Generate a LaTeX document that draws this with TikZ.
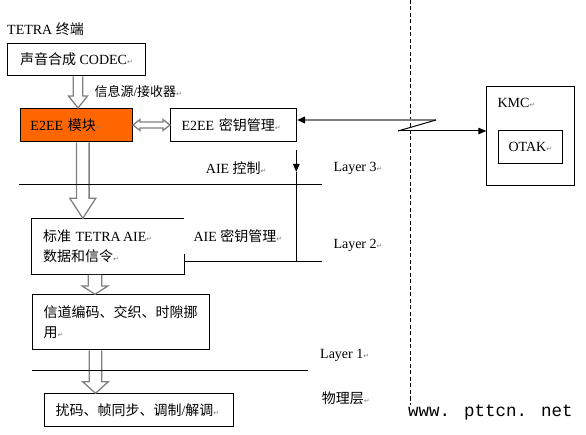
\documentclass[tikz,border=0pt]{standalone}
\usepackage{fontspec}
\setmainfont{Liberation Serif}
\newfontfamily\zh{Noto Sans CJK SC}
\newfontfamily\symf{DejaVu Sans}
\newfontfamily\webf{Liberation Mono}
\usepackage{xcolor}
\usepackage{tikz}
\usetikzlibrary{arrows.meta,calc}

\definecolor{moduleorange}{HTML}{FF6600}
\definecolor{arrowgray}{HTML}{808080}
\newcommand{\rt}{{\symf\fontsize{7}{7}\selectfont\textcolor{gray}{↵}}}

% hollow arrow pointing down: from, to, shaft half width, head half width, head length
\newcommand{\fatdown}[5]{%
  \draw[fat] let \p1=(#1), \p2=(#2) in
    (\x1-#3pt,\y1-0.5pt) -- (\x1-#3pt,\y2+#5pt) -- (\x1-#4pt,\y2+#5pt) -- (\x1,\y2)
    -- (\x1+#4pt,\y2+#5pt) -- (\x1+#3pt,\y2+#5pt) -- (\x1+#3pt,\y1-0.5pt);}

\tikzset{
  box/.style={anchor=north west, inner sep=0pt, line width=1pt,
    font=\fontsize{14}{20.5}\selectfont},
  lbl/.style={anchor=west, inner sep=0pt, font=\fontsize{14}{17}\selectfont},
  fat/.style={draw=arrowgray, fill=white, line width=1.3pt},
  tip/.style={-{Triangle[length=8pt,width=6.5pt,color=black]}}
}

\begin{document}
\begin{tikzpicture}[x=1pt, y=-1pt]
\useasboundingbox (0,0) rectangle (586,435);

% Terminal title
\node[anchor=base west, inner sep=0pt, font=\fontsize{14}{17}\selectfont] (title) at (7,35) {TETRA {\zh 终端}};

% Terminal stack
\node[box, draw, minimum width=138pt, minimum height=32pt] (codec) at (7,43) {{\zh 声音合成} CODEC\rt};
\node[box, draw, fill=moduleorange, inner xsep=10pt, text width=92pt, align=left, minimum height=33pt] (e2ee) at (20,108) {E2EE {\zh 模块}\rt};
\node[box, draw, inner xsep=11pt, text width=104pt, align=left, minimum height=33pt] (keymgmt) at (170,108) {E2EE {\zh 密钥管理}\rt};
\node[box, inner xsep=11.5pt, text width=129pt, align=left, minimum height=55pt] (aie) at (31,218.3) {{\zh 标准} TETRA\,AIE\rt\\{\zh 数据和信令}\rt};
\draw[line width=1pt] ([yshift=20pt]aie.south east) -- (aie.south east) -- (aie.south west) -- (aie.north west) -- (aie.north east);
\node[box, draw, inner xsep=11.3pt, text width=155pt, align=left, minimum height=54.7pt] (channel) at (31.7,294.3) {{\zh 信道编码、交织、时隙挪}\\{\zh 用}\rt};
\node[box, draw, inner xsep=10.7pt, text width=167.6pt, align=left, minimum height=32.7pt] (scramble) at (44.3,393.3) {{\zh 扰码、帧同步、调制}/{\zh 解调}\rt};

% Key management centre
\node[box, draw, minimum width=88pt, minimum height=99.3pt] (kmc) at (486.3,86) {};
\node[anchor=base west, inner sep=0pt, font=\fontsize{14}{17}\selectfont] (kmclabel) at (497.3,108) {KMC\rt};
\node[box, draw, minimum width=63.7pt, minimum height=33pt] (otak) at (498,130.3) {OTAK\rt};

% Hollow arrows
\fatdown{[xshift=1.5pt]codec.south}{e2ee.north}{4.7}{9.5}{12}
\fatdown{[xshift=6.3pt]e2ee.south}{aie.north}{6.3}{13}{20}
\fatdown{[xshift=-12.5pt]aie.south}{channel.north}{6.8}{12.8}{8.3}
\fatdown{[xshift=-25.5pt]channel.south}{scramble.north}{6.2}{12.8}{11.6}
\draw[fat] let \p1=(e2ee.east), \p2=(keymgmt.west) in
  (\x1,\y1) -- (\x1+7pt,\y1+5.5pt) -- (\x1+7pt,\y1+3pt) -- (\x2-7pt,\y1+3pt) -- (\x2-7pt,\y1+5.5pt)
  -- (\x2,\y1) -- (\x2-7pt,\y1-5.5pt) -- (\x2-7pt,\y1-3pt) -- (\x1+7pt,\y1-3pt) -- (\x1+7pt,\y1-5.5pt) -- cycle;

% Labels
\node[lbl, font=\fontsize{13}{16}\selectfont] (srclbl) at (94.3,92) {{\zh 信息源}/{\zh 接收器}\rt};
\node[lbl] (aiectl) at (205.7,168) {AIE {\zh 控制}\rt};
\node[lbl] (aiekey) at (193.3,236) {AIE {\zh 密钥管理}\rt};
\node[lbl] (layer3) at (333.3,168) {Layer 3\rt};
\node[lbl] (layer2) at (333.3,245) {Layer 2\rt};
\node[lbl] (layer1) at (320,355) {Layer 1\rt};
\node[lbl] (phys) at (321.7,398) {{\zh 物理层}\rt};
\node[anchor=base west, inner sep=0pt, font=\webf\fontsize{17.5}{20}\selectfont] (web) at (408,416.5) {www. pttcn. net};

% Layer boundaries
\coordinate (l3a) at (19,185);
\coordinate (l3b) at (322,185);
\coordinate (l2end) at (322,262);
\coordinate (l1a) at (31.7,370.7);
\coordinate (l1b) at (308.3,370.7);
\draw[line width=1pt] (l3a) -- (l3b);
\draw[line width=1pt] (l2end -| aie.east) -- (l2end);
\draw[line width=1pt] (l1a) -- (l1b);

% AIE control line
\coordinate (ctltop) at (296.3,150);
\coordinate (ctlmid) at (296.3,172);
\draw[line width=1pt, tip] (ctltop) -- (ctlmid);
\draw[line width=1pt] (ctlmid) -- (ctlmid |- l2end);

% Air interface boundary
\coordinate (dtop) at (410,0);
\coordinate (dbot) at (410,405);
\draw[line width=1pt, dash pattern=on 4pt off 2.5pt] (dtop) -- (dbot);

% Over-the-air key link
\coordinate (zz1) at (436,120);
\coordinate (zz2) at (398,131);
\draw[arrowgray, line width=2pt, tip] (zz1) -- (zz1 -| keymgmt.east);
\draw[line width=1pt] (zz1) -- (zz2);
\draw[line width=1pt, tip] (zz2) -- (zz2 -| kmc.west);
\end{tikzpicture}
\end{document}
